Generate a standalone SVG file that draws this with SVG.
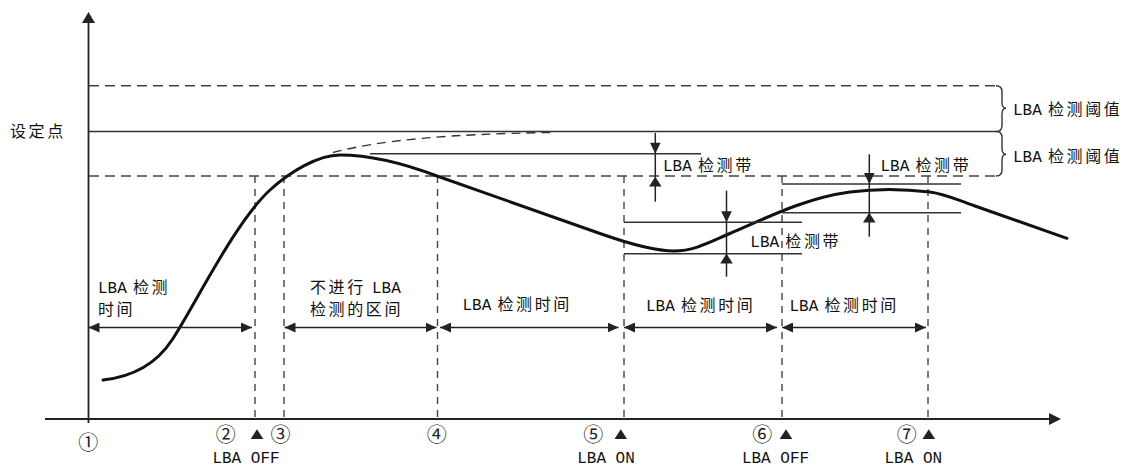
<svg xmlns="http://www.w3.org/2000/svg" width="1123" height="468" viewBox="0 0 1123 468">
<style>
.ln{stroke:#333;stroke-width:1.4;fill:none}
.ax{stroke:#222;stroke-width:1.8;fill:none}
.dh{stroke:#444;stroke-width:1.5;fill:none;stroke-dasharray:10 6}
.dv{stroke:#444;stroke-width:1.4;fill:none;stroke-dasharray:7 6}
.crv{stroke:#111;stroke-width:3;fill:none;stroke-linecap:round}
.dc{stroke:#333;stroke-width:1.4;fill:none;stroke-dasharray:9 6}
.ar{stroke:#222;stroke-width:1.5;fill:none}
.hd{fill:#222}
.t{font-family:"Liberation Mono","Noto Sans CJK SC",monospace;font-size:16px;fill:#111}
.c{font-family:"Noto Sans CJK SC","Liberation Sans",sans-serif;letter-spacing:2.6px}
.n{font-family:"Noto Sans CJK SC","DejaVu Sans",sans-serif;font-size:20px;fill:#222;text-anchor:middle}
.b{text-anchor:middle}
</style>
<defs>
<marker id="ah" viewBox="0 0 11 10" refX="11" refY="5" markerWidth="11" markerHeight="10" markerUnits="userSpaceOnUse" orient="auto-start-reverse">
<path d="M0,0 L11,5 L0,10 z" fill="#222"/>
</marker>
<path id="dn" d="M-5.3,-11 L5.3,-11 L0,0 z"/>
<path id="tri" d="M-6.3,9.7 L6.3,9.7 L0,0 z"/>
</defs>

<g id="axes">
<line class="ax" x1="88.5" y1="423" x2="88.5" y2="22"/>
<polygon class="hd" points="82,23 95,23 88.5,12"/>
<line class="ax" x1="45" y1="419" x2="1050" y2="419"/>
<polygon class="hd" points="1049,413 1061,419 1049,425"/>
</g>

<g id="guides">
<line class="dh" x1="89" y1="85.7" x2="996" y2="85.7"/>
<line class="ln" x1="89" y1="131.5" x2="996" y2="131.5" style="stroke-width:1.7"/>
<line class="dh" x1="89" y1="176" x2="996" y2="176"/>
<path class="ln" d="M996,85.7 Q1002,85.7 1002,91.7 L1002,102.3 Q1002,108.3 1006,108.3 Q1002,108.3 1002,114.3 L1002,125.5 Q1002,131.5 996,131.5"/>
<path class="ln" d="M996,131.5 Q1002,131.5 1002,137.5 L1002,148.3 Q1002,154.3 1006,154.3 Q1002,154.3 1002,160.3 L1002,170 Q1002,176 996,176"/>
<line class="dv" x1="255" y1="176" x2="255" y2="419"/>
<line class="dv" x1="284" y1="176" x2="284" y2="419"/>
<line class="dv" x1="437.5" y1="176" x2="437.5" y2="419"/>
<line class="dv" x1="624" y1="176" x2="624" y2="419"/>
<line class="dv" x1="782" y1="176" x2="782" y2="419"/>
<line class="dv" x1="928" y1="176" x2="928" y2="419"/>
</g>

<g id="curve">
<path class="dc" d="M333,152.5 C380,140 450,134 550,132.5"/>
<path class="crv" d="M103,380 C130,377 155,366 172,340 C195,305 235,222 270,190 C290,171.7 318,155 340,155 C365,155 400,162 437,176 L600,233.5 C630,244.1 655,251 674,251 C694,251 710,242 730,233.5 C765,218.6 805,198 850,192 C875,188.7 905,189 930,192 C945,194 955,199 975,206 L1067,238.3"/>
</g>

<g id="bands">
<line class="ln" x1="370" y1="153.7" x2="701" y2="153.7"/>
<line class="ln" x1="624" y1="222.3" x2="802" y2="222.3"/>
<line class="ln" x1="624" y1="253.7" x2="802" y2="253.7"/>
<line class="ln" x1="782" y1="184" x2="961" y2="184"/>
<line class="ln" x1="782" y1="212.7" x2="961" y2="212.7"/>
<line class="ar" x1="655.3" y1="133" x2="655.3" y2="201.7"/>
<use href="#dn" class="hd" x="655.3" y="153.7"/>
<use href="#tri" class="hd" x="655.3" y="176.7"/>
<line class="ar" x1="726.5" y1="190.7" x2="726.5" y2="276.7"/>
<use href="#dn" class="hd" x="726.5" y="222.3"/>
<use href="#tri" class="hd" x="726.5" y="253.7"/>
<line class="ar" x1="869.3" y1="154.3" x2="869.3" y2="236.7"/>
<use href="#dn" class="hd" x="869.3" y="184"/>
<use href="#tri" class="hd" x="869.3" y="212.7"/>
</g>

<g id="intervals">
<line class="ar" x1="88.5" y1="327.5" x2="252" y2="327.5" marker-start="url(#ah)" marker-end="url(#ah)"/>
<line class="ar" x1="284.5" y1="327.5" x2="436.5" y2="327.5" marker-start="url(#ah)" marker-end="url(#ah)"/>
<line class="ar" x1="440" y1="327.5" x2="618.5" y2="327.5" marker-start="url(#ah)" marker-end="url(#ah)"/>
<line class="ar" x1="624" y1="327.5" x2="777" y2="327.5" marker-start="url(#ah)" marker-end="url(#ah)"/>
<line class="ar" x1="782" y1="327.5" x2="926" y2="327.5" marker-start="url(#ah)" marker-end="url(#ah)"/>
</g>

<g id="labels">
<text class="t" x="10" y="137"><tspan class="c">设定点</tspan></text>
<text class="t" x="1013" y="115">LBA<tspan class="c"> 检测阈值</tspan></text>
<text class="t" x="1013" y="161.5">LBA<tspan class="c"> 检测阈值</tspan></text>
<text class="t" x="663" y="171">LBA<tspan class="c"> 检测带</tspan></text>
<text class="t" x="880.5" y="171">LBA<tspan class="c"> 检测带</tspan></text>
<text class="t" x="750.3" y="247">LBA<tspan class="c"> 检测带</tspan></text>
<text class="t" x="98" y="293">LBA<tspan class="c"> 检测</tspan></text>
<text class="t" x="98" y="315"><tspan class="c">时间</tspan></text>
<text class="t" x="310" y="293"><tspan class="c">不进行 </tspan>LBA</text>
<text class="t" x="310" y="315"><tspan class="c">检测的区间</tspan></text>
<text class="t" x="462.5" y="310">LBA<tspan class="c"> 检测时间</tspan></text>
<text class="t" x="646" y="310.5">LBA<tspan class="c"> 检测时间</tspan></text>
<text class="t" x="789.5" y="310.5">LBA<tspan class="c"> 检测时间</tspan></text>
</g>

<g id="events">
<text class="n" x="88.2" y="450">①</text>
<text class="n" x="225.7" y="441.5">②</text>
<text class="n" x="280.5" y="441.5">③</text>
<text class="n" x="436.7" y="441.5">④</text>
<text class="n" x="593.3" y="441.5">⑤</text>
<text class="n" x="762.3" y="441.5">⑥</text>
<text class="n" x="906.7" y="441.5">⑦</text>
<use href="#tri" class="hd" x="257" y="429.3"/>
<use href="#tri" class="hd" x="620.8" y="429.3"/>
<use href="#tri" class="hd" x="786" y="429.3"/>
<use href="#tri" class="hd" x="928.8" y="429.3"/>
<text class="t b" x="246" y="462.5">LBA OFF</text>
<text class="t b" x="606" y="462.5">LBA ON</text>
<text class="t b" x="775.5" y="462.5">LBA OFF</text>
<text class="t b" x="913.3" y="462.5">LBA ON</text>
</g>
</svg>
